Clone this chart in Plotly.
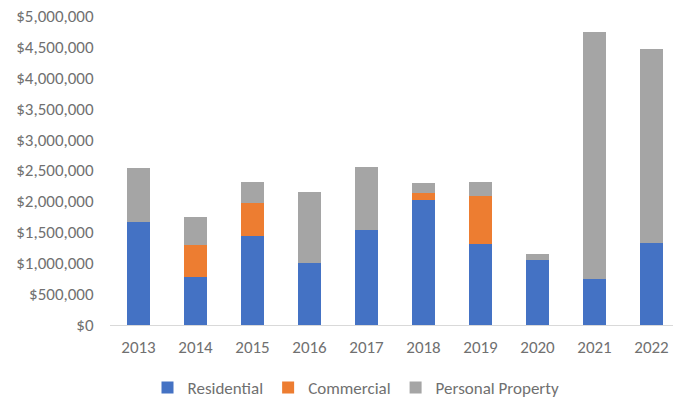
import plotly.graph_objects as go

years = ["2013", "2014", "2015", "2016", "2017", "2018", "2019", "2020", "2021", "2022"]
residential = [1670000, 780000, 1445000, 1000000, 1540000, 2030000, 1310000, 1050000, 740000, 1320000]
commercial = [0, 510000, 525000, 0, 0, 110000, 770000, 0, 0, 0]
personal_property = [870000, 460000, 350000, 1160000, 1020000, 150000, 240000, 100000, 4000000, 3140000]

y_ticks = [0, 500000, 1000000, 1500000, 2000000, 2500000, 3000000, 3500000, 4000000, 4500000, 5000000]
y_tick_labels = ["${:,}".format(v) for v in y_ticks]

font_family = "Carlito, Calibri, Lato, sans-serif"
text_color = "#707070"
font_size = 17

fig = go.Figure()
for name, vals, color in [
    ("Residential", residential, "#4472C4"),
    ("Commercial", commercial, "#ED7D31"),
    ("Personal Property", personal_property, "#A5A5A5"),
]:
    fig.add_trace(go.Bar(x=years, y=vals, name=name, marker_color=color, marker_line_width=0))

fig.update_layout(
    barmode="stack",
    bargap=0.61,
    width=673,
    height=398,
    margin=dict(l=110, r=0, t=16, b=73, autoexpand=False),
    paper_bgcolor="white",
    plot_bgcolor="white",
    font=dict(family=font_family, size=font_size, color=text_color),
    xaxis=dict(
        type="category",
        range=[-0.5, 9.377],
        showline=True,
        linecolor="#D9D9D9",
        linewidth=1,
        showgrid=False,
        tickangle=0,
        ticks="outside",
        ticklen=7,
        tickcolor="rgba(0,0,0,0)",
        tickfont=dict(size=font_size, color=text_color),
    ),
    yaxis=dict(
        range=[0, 5000000],
        tickvals=y_ticks,
        ticktext=y_tick_labels,
        showgrid=False,
        zeroline=False,
        ticks="outside",
        ticklen=12,
        tickcolor="rgba(0,0,0,0)",
        tickfont=dict(size=font_size, color=text_color),
    ),
    legend=dict(
        orientation="h",
        xref="paper",
        x=(356 - 110) / 563,
        xanchor="center",
        y=(325 - 388) / 309,
        yanchor="middle",
        font=dict(size=font_size, color=text_color),
        traceorder="normal",
        itemwidth=30,
        tracegroupgap=0,
    ),
)

fig.write_html("out.html")
